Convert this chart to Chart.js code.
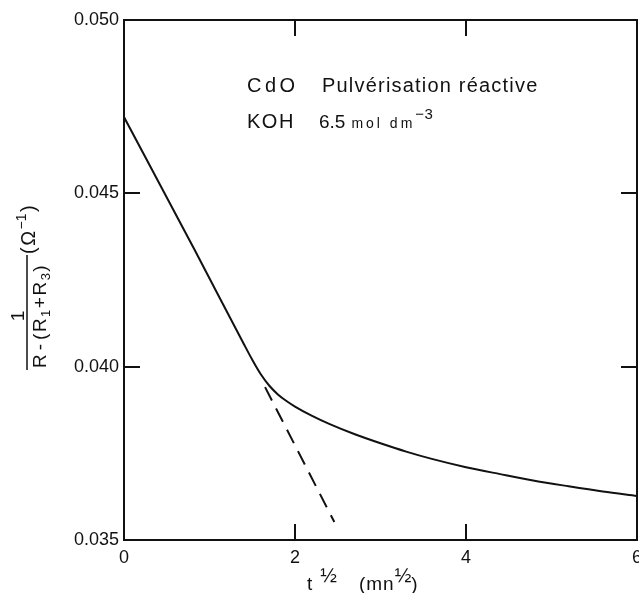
<!DOCTYPE html>
<html>
<head>
<meta charset="utf-8">
<script src="https://cdn.jsdelivr.net/npm/chart.js@4.4.1/dist/chart.umd.min.js"></script>
<style>
  body { margin: 0; overflow: hidden; background: #fff; }
</style>
</head>
<body>
<canvas id="chart" width="660" height="593"></canvas>
<script>
const curveX = [0, 0.83, 1.4, 1.5, 1.6, 1.7, 1.8, 1.9, 2.0, 2.2, 2.4, 2.7, 3.0, 3.3, 3.6, 4.0, 4.4, 4.8, 5.2, 5.6, 6.0];
const curveY = [0.0472, 0.04335, 0.04066, 0.0402, 0.03978, 0.03945, 0.0392, 0.03901, 0.03885, 0.03858, 0.03835, 0.03805, 0.03779, 0.03755, 0.03734, 0.0371, 0.0369, 0.03671, 0.03655, 0.0364, 0.03627];

// dashed extrapolation of the initial slope
const tangentX = [1.65, 2.46];
const tangentY = [0.03941, 0.03552];

const xTicks = [0, 2, 4, 6];
const yTicks = [0.035, 0.040, 0.045, 0.050];

const FONT = '"Liberation Sans", Arial, sans-serif';
const INK = '#111';

const toPoints = (xs, ys) => xs.map((x, i) => ({ x: x, y: ys[i] }));

// draw text char by char so the wide spacing of the figure can be kept
function run(ctx, parts, x, y) {
  for (const p of parts) {
    ctx.font = p.size + 'px ' + FONT;
    for (const ch of p.text) {
      ctx.fillText(ch, x, y + (p.dy || 0));
      x += ctx.measureText(ch).width + (p.sp || 0);
    }
    x += p.gap || 0;
  }
  return x;
}

const decorations = {
  id: 'decorations',
  afterDraw(chart) {
    const { ctx, chartArea: a, scales: { x, y } } = chart;
    ctx.save();
    ctx.strokeStyle = INK;
    ctx.fillStyle = INK;

    // top and right frame
    ctx.lineWidth = 2;
    ctx.beginPath();
    ctx.moveTo(a.left - 1, a.top);
    ctx.lineTo(a.right, a.top);
    ctx.lineTo(a.right, a.bottom + 1);
    ctx.stroke();

    // inward tick marks on all four sides
    const len = 16;
    ctx.beginPath();
    x.ticks.forEach(t => {
      if (t.value <= x.min || t.value >= x.max) return;
      const px = Math.round(x.getPixelForValue(t.value));
      ctx.moveTo(px, a.bottom); ctx.lineTo(px, a.bottom - len);
      ctx.moveTo(px, a.top); ctx.lineTo(px, a.top + len);
    });
    y.ticks.forEach(t => {
      if (t.value <= y.min + 1e-9 || t.value >= y.max - 1e-9) return;
      const py = Math.round(y.getPixelForValue(t.value));
      ctx.moveTo(a.left, py); ctx.lineTo(a.left + len, py);
      ctx.moveTo(a.right, py); ctx.lineTo(a.right - len, py);
    });
    ctx.stroke();

    ctx.textBaseline = 'alphabetic';
    ctx.textAlign = 'left';

    // annotation inside the plot
    run(ctx, [{ text: 'CdO', size: 20, sp: 3.5 }], 247, 92);
    run(ctx, [{ text: 'Pulvérisation réactive', size: 20, sp: 1.2 }], 322, 92);
    run(ctx, [{ text: 'KOH', size: 20, sp: 1.5 }], 247, 128);
    run(ctx, [
      { text: '6.5', size: 19, sp: 0, gap: 6 },
      { text: 'mol dm', size: 14, sp: 3, gap: 0 },
      { text: '−3', size: 15, dy: -9, sp: 0.5 }
    ], 319, 128);

    // x axis title: t^1/2 (mn^1/2)
    run(ctx, [
      { text: 't', size: 19, gap: 8 },
      { text: '½', size: 20, dy: -8, gap: 22 },
      { text: '(mn', size: 19, sp: 1 },
      { text: '½', size: 20, dy: -8 },
      { text: ')', size: 19 }
    ], 307, 590);

    // y axis title: 1 / (R - (R1+R3)) (Ω^-1), rotated
    ctx.lineWidth = 1.5;
    ctx.beginPath();
    ctx.moveTo(27, 370);
    ctx.lineTo(27, 255);
    ctx.stroke();

    ctx.save();
    ctx.rotate(-Math.PI / 2);
    run(ctx, [
      { text: 'R', size: 19, gap: 4 },
      { text: '-', size: 19, gap: 4 },
      { text: '(R', size: 19, sp: 1.5 },
      { text: '1', size: 13, dy: 4, gap: 1.5 },
      { text: '+', size: 19, gap: 1.5 },
      { text: 'R', size: 19, sp: 1.5 },
      { text: '3', size: 13, dy: 4, gap: 1.5 },
      { text: ')', size: 19 }
    ], -368, 46);
    ctx.font = '19px ' + FONT;
    ctx.textAlign = 'center';
    ctx.fillText('1', -316, 24);
    ctx.textAlign = 'left';
    run(ctx, [
      { text: '(Ω', size: 20, sp: 1.5 },
      { text: '−1', size: 14, dy: -9, gap: 1.5 },
      { text: ')', size: 20 }
    ], -254, 35);
    ctx.restore();

    ctx.restore();
  }
};

new Chart(document.getElementById('chart'), {
  type: 'scatter',
  data: {
    datasets: [
      {
        data: toPoints(curveX, curveY),
        showLine: true,
        borderColor: INK,
        borderWidth: 2,
        pointRadius: 0,
        cubicInterpolationMode: 'monotone'
      },
      {
        data: toPoints(tangentX, tangentY),
        showLine: true,
        borderColor: INK,
        borderWidth: 2,
        borderDash: [15, 9],
        pointRadius: 0
      }
    ]
  },
  options: {
    responsive: false,
    animation: false,
    devicePixelRatio: 1,
    layout: { padding: { top: 20, right: 23, left: 0, bottom: 0 } },
    plugins: { legend: { display: false }, tooltip: { enabled: false } },
    scales: {
      x: {
        type: 'linear',
        min: 0,
        max: 6,
        afterBuildTicks: s => { s.ticks = xTicks.map(v => ({ value: v })); },
        afterFit: s => { s.height = 53; },
        grid: { display: false, drawTicks: false },
        border: { display: true, color: INK, width: 2 },
        ticks: { color: INK, padding: 7, font: { family: FONT, size: 18 }, maxRotation: 0 }
      },
      y: {
        min: 0.035,
        max: 0.050,
        afterBuildTicks: s => { s.ticks = yTicks.map(v => ({ value: v })); },
        afterFit: s => { s.width = 124; },
        grid: { display: false, drawTicks: false },
        border: { display: true, color: INK, width: 2 },
        ticks: {
          color: INK,
          padding: 5,
          font: { family: FONT, size: 18 },
          callback: v => v.toFixed(3)
        }
      }
    }
  },
  plugins: [decorations]
});
</script>
</body>
</html>
